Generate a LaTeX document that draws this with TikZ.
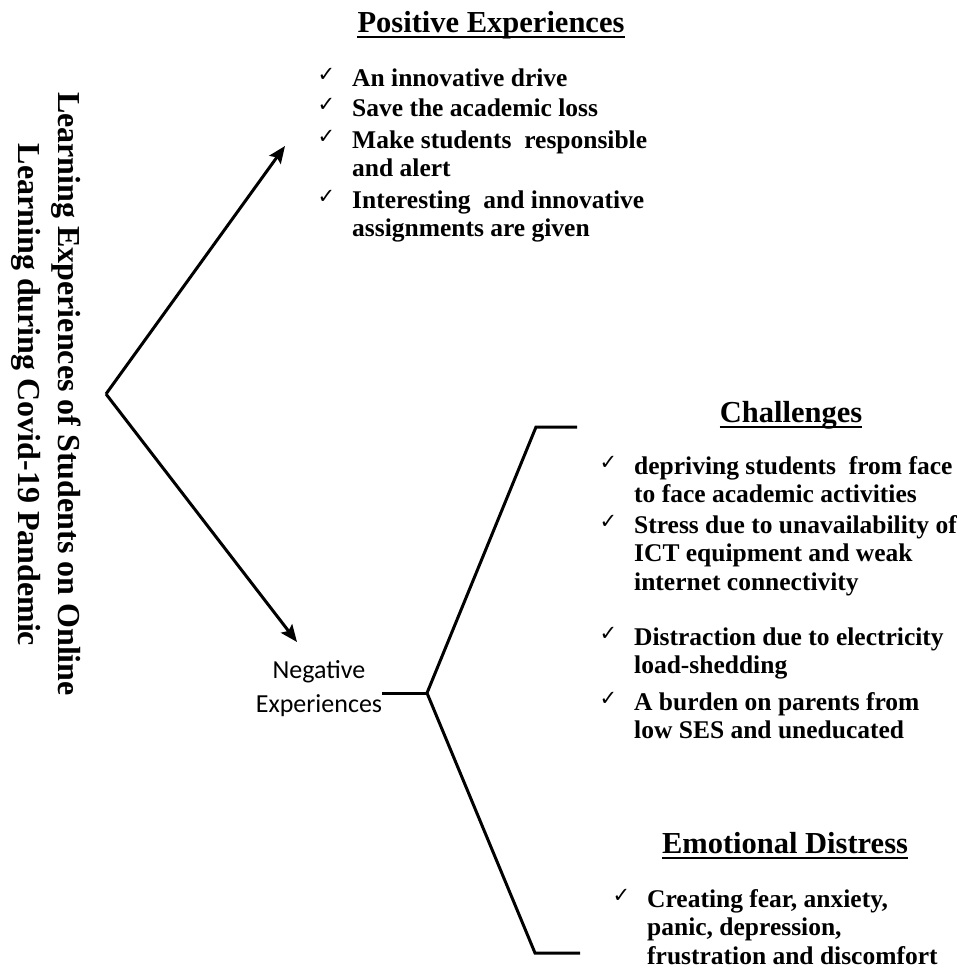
\documentclass[tikz,border=0pt]{standalone}
\usepackage{fontspec}
\setmainfont{Liberation Serif}
\newfontfamily\negfont{Carlito}
\newfontfamily\tickfont{DejaVu Sans}
\usetikzlibrary{arrows.meta}
\newcommand{\tck}{\llap{\raisebox{5pt}{\tickfont\fontsize{21}{21}\selectfont ✓}\hspace{17pt}}}

\begin{document}
\begin{tikzpicture}[x=1pt, y=-1pt, >={Stealth[length=17pt,width=14pt,inset=3pt]}]
	\tikzstyle{head} = [font=\bfseries\fontsize{30.5}{34}\selectfont, inner sep=0pt, anchor=base]
	\tikzstyle{item} = [font=\bfseries\fontsize{25.5}{28.5}\selectfont, inner sep=0pt, align=left, anchor=base west]
	\tikzstyle{side} = [font=\bfseries\fontsize{32}{40}\selectfont, inner sep=0pt, anchor=base, rotate=-90]
	\tikzstyle{negbox} = [font=\negfont\fontsize{26}{34}\selectfont, inner sep=0pt, align=center, anchor=base]
	\tikzstyle{uline} = [line width=1.6pt]
	\tikzstyle{bar} = [line width=3pt]

	\useasboundingbox (0,0) rectangle (978,969);

	% vertical title
	\node[side] (lead1) at (58,394) {Learning Experiences of Students on Online};
	\node[side] (lead2) at (18,395) {Learning during Covid-19 Pandemic};

	% two arrows
	\coordinate (root) at (106,394);
	\coordinate (posTip) at (285,146);
	\coordinate (negTip) at (297,642);
	\path[->, bar]
	(root) edge (posTip)
	(root) edge (negTip);

	% positive side (items placed by the baseline of their last line)
	\node[head] (posHead) at (491,32) {Positive Experiences};
	\draw[uline] ([yshift=-5pt]posHead.base west) -- ([yshift=-5pt]posHead.base east);
	\node[item] (pos1) at (352,86) {\tck An innovative drive};
	\node[item] (pos2) at (352,116) {\tck Save the academic loss};
	\node[item] (pos3) at (352,176.5) {\tck Make students~ responsible\\and alert};
	\node[item] (pos4) at (352,236.5) {\tck Interesting~ and innovative\\assignments are given};

	% negative side
	\node[negbox] (neg) at (319,712) {Negative\\Experiences};
	\coordinate (fork) at (427,693);
	\coordinate (chCorner) at (536,427);
	\coordinate (chEnd) at (577,427);
	\coordinate (emCorner) at (535,953);
	\coordinate (emEnd) at (580,953);
	\draw[bar] (neg.east |- fork) -- (fork);
	\draw[bar] (fork) -- (chCorner) -- (chEnd);
	\draw[bar] (fork) -- (emCorner) -- (emEnd);

	\node[head] (chHead) at (791,422) {Challenges};
	\draw[uline] ([yshift=-5pt]chHead.base west) -- ([yshift=-5pt]chHead.base east);
	\node[item] (ch1) at (634,502.5) {\tck depriving students~ from face\\to face academic activities};
	\node[item] (ch2) at (634,590) {\tck Stress due to unavailability of\\ICT equipment and weak\\internet connectivity};
	\node[item] (ch3) at (634,673.5) {\tck Distraction due to electricity\\load-shedding};
	\node[item] (ch4) at (634,738.5) {\tck A burden on parents from\\low SES and uneducated};

	\node[head] (emHead) at (785,853) {Emotional Distress};
	\draw[uline] ([yshift=-5pt]emHead.base west) -- ([yshift=-5pt]emHead.base east);
	\node[item] (em1) at (647,964) {\tck Creating fear, anxiety,\\panic, depression,\\frustration and discomfort};
\end{tikzpicture}
\end{document}
